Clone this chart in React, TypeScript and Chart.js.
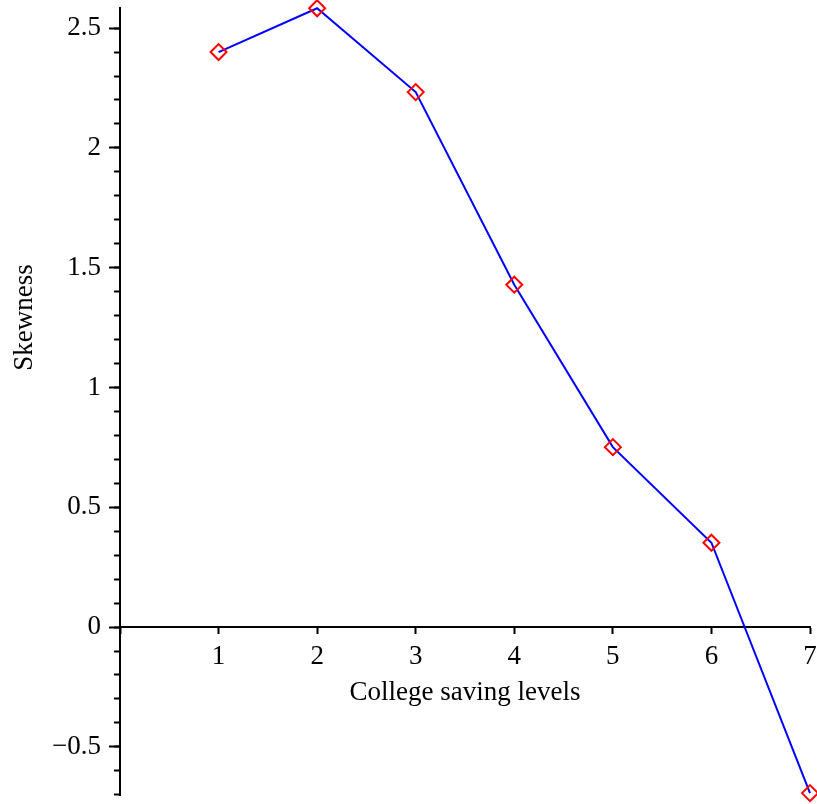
import React, { useEffect, useRef } from "react";
import { Chart, registerables } from "chart.js";

Chart.register(...registerables);

const savingLevels = [1, 2, 3, 4, 5, 6, 7];
const skewness = [2.4, 2.583, 2.233, 1.429, 0.751, 0.352, -0.693];
const xTickValues = [0, 1, 2, 3, 4, 5, 6, 7];
const yMajorStep = 0.5;
const yMinorStep = 0.1;
const xTitle = "College saving levels";
const yTitle = "Skewness";

const FONT = "'Liberation Serif', 'Times New Roman', serif";
const FS = 27;

const yTitlePlugin = {
  id: "yTitlePlugin",
  afterDraw(chart: any) {
    const y = chart.scales.y;
    const { ctx } = chart;
    const cy = (y.getPixelForValue(y.max) + y.getPixelForValue(0)) / 2;
    ctx.save();
    ctx.translate(25, cy);
    ctx.rotate(-Math.PI / 2);
    ctx.font = `${FS}px ${FONT}`;
    ctx.fillStyle = "#000";
    ctx.textAlign = "center";
    ctx.textBaseline = "middle";
    ctx.fillText(yTitle, 0, 0);
    ctx.restore();
  },
};

export default function App() {
  const ref = useRef<HTMLCanvasElement | null>(null);

  useEffect(() => {
    if (!ref.current) return;
    const points = savingLevels.map((x, i) => ({ x, y: skewness[i] }));
    const chart = new Chart(ref.current, {
      type: "scatter",
      data: {
        datasets: [
          {
            data: points,
            showLine: true,
            clip: false,
            borderColor: "#0000ff",
            borderWidth: 2,
            pointStyle: "rectRot",
            pointRadius: 8,
            pointBorderColor: "#ff0000",
            pointBackgroundColor: "rgba(0,0,0,0)",
            pointBorderWidth: 2,
            tension: 0,
          } as any,
        ],
      },
      plugins: [yTitlePlugin],
      options: {
        responsive: false,
        animation: false,
        layout: { autoPadding: false, padding: { top: 8, bottom: 9, right: 7, left: 0 } },
        plugins: { legend: { display: false }, tooltip: { enabled: false } },
        scales: {
          x: {
            type: "linear",
            position: { y: 0 } as any,
            min: 0,
            max: 7,
            afterBuildTicks: (s: any) => {
              s.ticks = xTickValues.map((v) => ({ value: v }));
            },
            afterFit: (s: any) => {
              s.paddingLeft = 0;
              s.paddingRight = 0;
            },
            ticks: {
              color: "#000",
              font: { family: FONT, size: FS },
              padding: 8,
              maxRotation: 0,
              callback: (v: any) => (v === 0 ? "" : String(v)),
            },
            grid: {
              drawOnChartArea: false,
              tickLength: 6,
              tickWidth: 2,
              tickColor: "#000",
            },
            border: { color: "#000", width: 2 },
            title: {
              display: true,
              text: xTitle,
              color: "#000",
              font: { family: FONT, size: FS },
              padding: { top: -5, bottom: 0 },
            },
          },
          y: {
            type: "linear",
            position: "left",
            min: -0.701,
            max: 2.584,
            afterFit: (s: any) => {
              s.width = 120;
              s.paddingTop = 0;
              s.paddingBottom = 0;
            },
            ticks: {
              stepSize: yMajorStep,
              includeBounds: false,
              color: "#000",
              font: { family: FONT, size: FS },
              padding: 8,
              callback: (v: any) => {
                const n = Number(v);
                if (Math.abs(n) < 1e-9) return "0";
                return n < 0 ? "\u2212" + String(Math.abs(n)) : String(n);
              },
            },
            grid: {
              drawOnChartArea: false,
              tickLength: 11,
              tickWidth: 2,
              tickColor: "#000",
            },
            border: { color: "#000", width: 2 },
            title: { display: false },
          },
          yMinor: {
            type: "linear",
            position: { x: 0 } as any,
            min: -0.701,
            max: 2.584,
            afterFit: (s: any) => {
              s.paddingTop = 0;
              s.paddingBottom = 0;
            },
            ticks: {
              stepSize: yMinorStep,
              includeBounds: false,
              display: false,
            },
            grid: {
              drawOnChartArea: false,
              tickLength: 6,
              tickWidth: 2,
              tickColor: "#000",
            },
            border: { display: false },
          },
        },
      },
    });
    return () => chart.destroy();
  }, []);

  return (
    <div style={{ position: "absolute", left: 0, top: 0, width: 817, height: 804, background: "#fff" }}>
      <canvas ref={ref} width={817} height={804} style={{ display: "block" }} />
    </div>
  );
}
